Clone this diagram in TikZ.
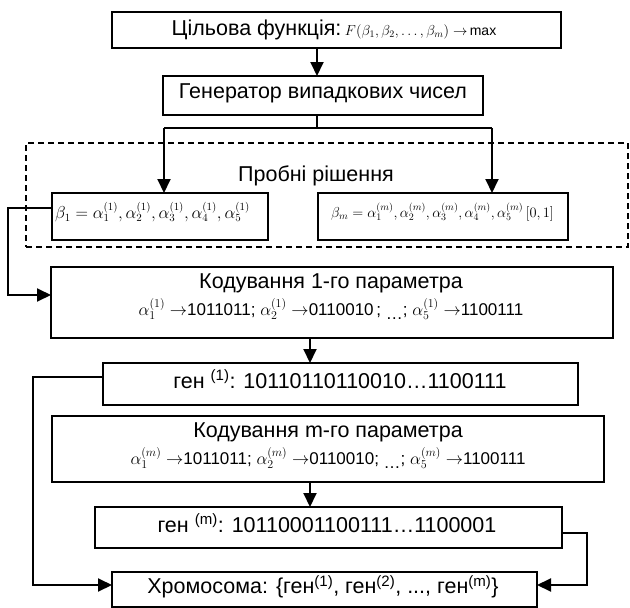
\documentclass[tikz,border=0pt]{standalone}
\usepackage{fontspec}
\setmainfont{Liberation Sans}
\usetikzlibrary{arrows.meta}
\begin{document}
\begin{tikzpicture}[x=1pt,y=-1pt,
  box/.style={draw, line width=1.4pt, inner sep=0pt, outer sep=0pt, anchor=north west, rectangle},
  dbox/.style={box, line width=1.2pt, dash pattern=on 6pt off 4pt},
  conn/.style={line width=2pt},
  arr/.style={line width=2pt, -{Triangle[length=14pt,width=13pt]}},
  big/.style={font=\fontsize{21.5}{24}\selectfont, inner sep=0pt},
  mid/.style={font=\fontsize{16}{18}\selectfont, inner sep=0pt},
  mids/.style={font=\fontsize{14.5}{17}\selectfont, inner sep=0pt},
  sml/.style={font=\fontsize{17}{19}\selectfont, inner sep=0pt},
]
\useasboundingbox (0,0) rectangle (630,608);

% boxes
\node[box, minimum width=449pt, minimum height=36pt] (f) at (112,12) {};
\node[box, minimum width=320pt, minimum height=39pt] (g) at (163,76) {};
\node[dbox, minimum width=602pt, minimum height=104pt] (dz) at (26,143) {};
\node[box, minimum width=216pt, minimum height=47pt] (b1) at (52,193) {};
\node[box, minimum width=250pt, minimum height=47pt] (bm) at (318,193) {};
\node[box, minimum width=562pt, minimum height=71pt] (k1) at (51,267) {};
\node[box, minimum width=475pt, minimum height=42pt] (g1) at (103,363) {};
\node[box, minimum width=552pt, minimum height=66pt] (km) at (52,416) {};
\node[box, minimum width=467pt, minimum height=41pt] (gm) at (95,507) {};
\node[box, minimum width=425pt, minimum height=35pt] (ch) at (112,572) {};

% texts
\node[big] (ft) at (334,30) {Цільова функція:\,{\fontsize{14}{16}\selectfont$F(\beta_1,\beta_2,\ldots,\beta_m)\rightarrow$\,max}};
\node[big] (gt) at (323,93) {Генератор випадкових чисел};
\node[big] (dt) at (316,176) {Пробні рішення};
\node[mid, anchor=west] (b1t) at (55,212) {$\beta_1=\alpha_1^{(1)},\alpha_2^{(1)},\alpha_3^{(1)},\alpha_4^{(1)},\alpha_5^{(1)}$};
\node[mids, anchor=west] (bmt) at (331,212) {$\beta_m=\alpha_1^{(m)},\alpha_2^{(m)},\alpha_3^{(m)},\alpha_4^{(m)},\alpha_5^{(m)}\,[0,1]$};
\node[big] (k1t) at (331,283) {Кодування 1-го параметра};
\node[sml] (k1f) at (331,309) {$\alpha_1^{(1)}\rightarrow$1011011; $\alpha_2^{(1)}\rightarrow$0110010\,; \raisebox{-4pt}{\ldots}; $\alpha_5^{(1)}\rightarrow$1100111};
\node[big] (g1t) at (340,379) {ген \textsuperscript{(1)}: 10110110110010…1100111};
\node[big] (kmt) at (328,432) {Кодування m-го параметра};
\node[sml] (kmf) at (328,458) {$\alpha_1^{(m)}\rightarrow$1011011; $\alpha_2^{(m)}\rightarrow$0110010; \raisebox{-4pt}{\ldots}; $\alpha_5^{(m)}\rightarrow$1100111};
\node[big] (gmt) at (327,523) {ген \textsuperscript{(m)}: 10110001100111…1100001};
\node[big] (cht) at (323,587) {Хромосома: \{ген\textsuperscript{(1)}, ген\textsuperscript{(2)}, ..., ген\textsuperscript{(m)}\}};

% helper coordinates
\coordinate (ax) at (317,0);
\coordinate (sp) at (317,128);
\coordinate (sp1) at (164,128);
\coordinate (sp2) at (492,128);
\coordinate (l1) at (8,208);
\coordinate (l2) at (8,295);
\coordinate (cx) at (310,0);
\coordinate (m1) at (33,377);
\coordinate (m2) at (33,585);
\coordinate (r1) at (587,533);
\coordinate (r2) at (587,585);

% connectors
\draw[arr] (f.south -| ax) -- (g.north -| ax);
\draw[conn] (g.south -| ax) -- (sp);
\draw[conn] (sp1) -- (sp2);
\draw[arr] (sp1) -- (b1.north -| sp1);
\draw[arr] (sp2) -- (bm.north -| sp2);
\draw[arr] (b1.west |- l1) -- (l1) -- (l2) -- (k1.west |- l2);
\draw[arr] (k1.south -| cx) -- (g1.north -| cx);
\draw[arr] (g1.west |- m1) -- (m1) -- (m2) -- (ch.west |- m2);
\draw[arr] (km.south -| cx) -- (gm.north -| cx);
\draw[arr] (gm.east |- r1) -- (r1) -- (r2) -- (ch.east |- r2);
\end{tikzpicture}
\end{document}
